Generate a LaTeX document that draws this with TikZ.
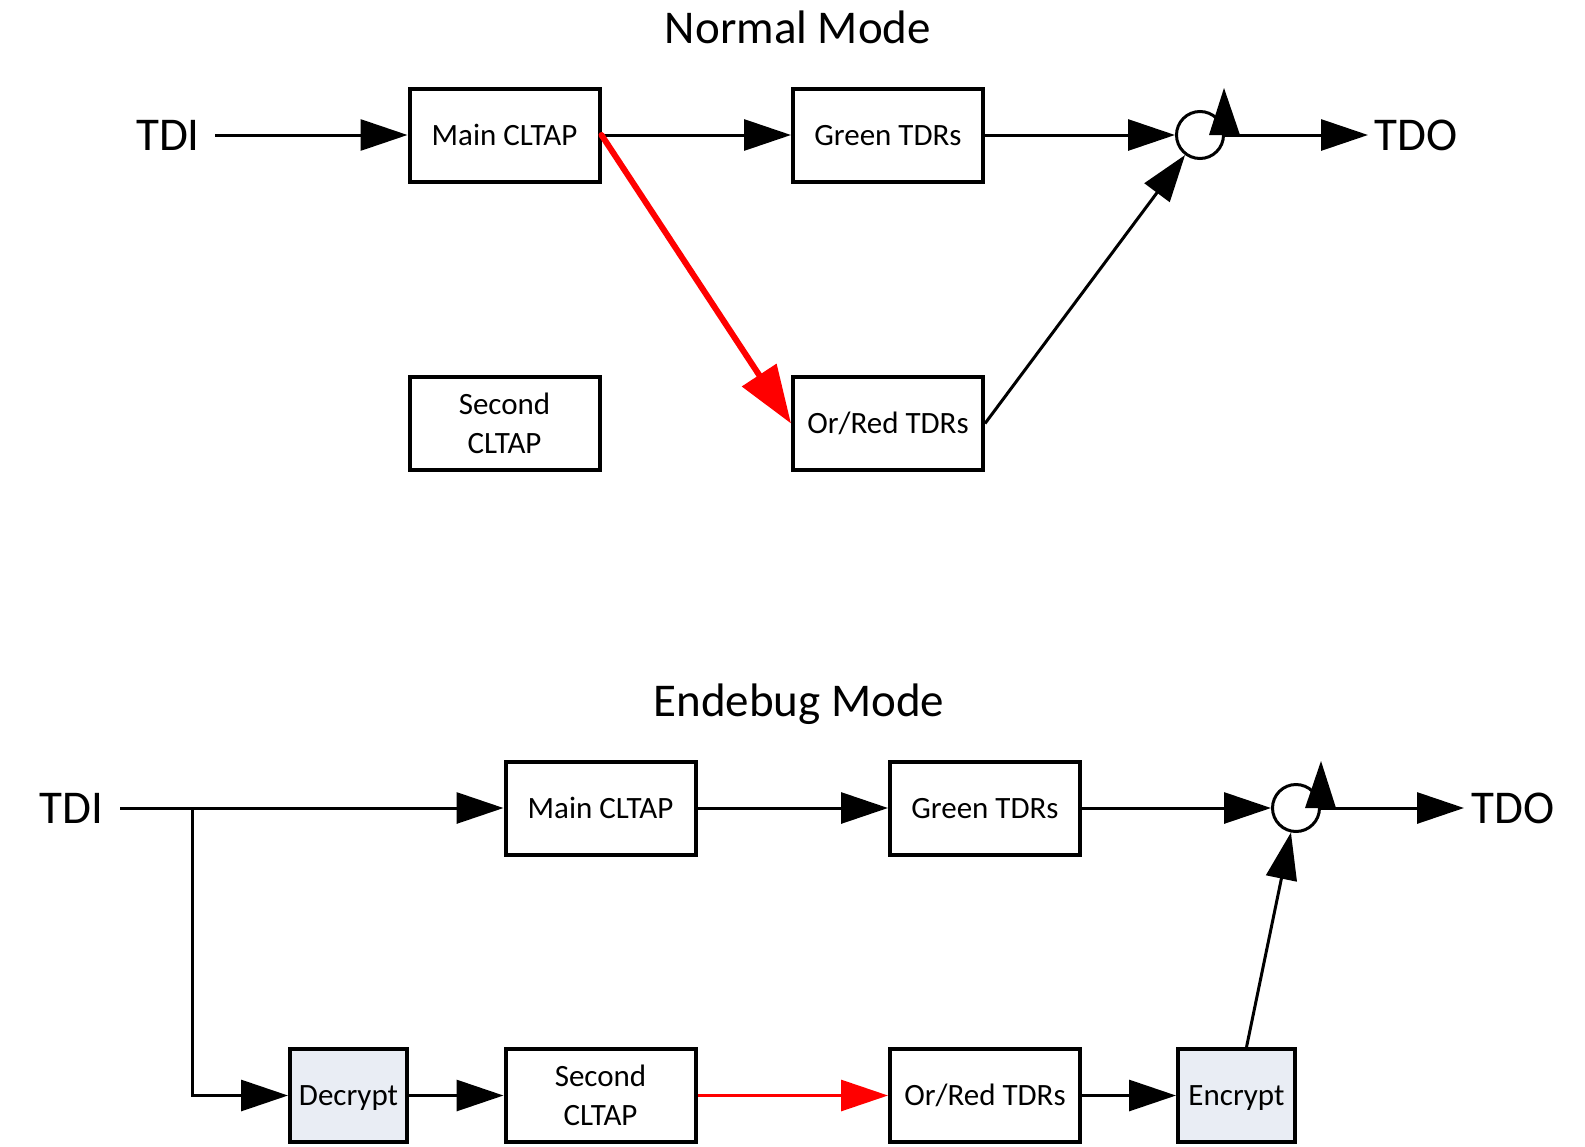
\documentclass[tikz,border=0pt]{standalone}
\usepackage{fontspec}
\setmainfont{Carlito}
\usetikzlibrary{arrows.meta,calc}
\definecolor{encfill}{RGB}{233,237,244}
\tikzset{
  box/.style={draw, line width=4pt, minimum width=190pt, minimum height=93pt, inner sep=0pt,
    align=center, font=\fontsize{31}{39}\selectfont},
  oneline/.style={text height=20pt, text depth=0pt},
  cbox/.style={box, oneline, fill=encfill, minimum width=117pt},
  junc/.style={draw, circle, line width=3pt, minimum size=47pt, inner sep=0pt},
  biglab/.style={inner sep=0pt, font=\fontsize{47}{50}\selectfont},
  arr/.style={line width=3pt, -{Triangle[length=47pt,width=31pt]}},
  redbig/.style={line width=6pt, red, line cap=round, -{Triangle[length=58pt,width=40pt]}},
  redarr/.style={line width=3pt, red, -{Triangle[length=47pt,width=31pt]}},
}
\begin{document}
\begin{tikzpicture}[x=1pt,y=-1pt]
\useasboundingbox (0,0) rectangle (1585,1146);

% ---------- Normal Mode ----------
\node[biglab, anchor=base] (titleA) at (798,43) {Normal Mode};
\node[biglab, anchor=base] (tdiA) at (168,150) {TDI};
\coordinate (tdiAs) at (215,135);
\node[box, oneline] (mainA) at (504.5,135) {Main CLTAP};
\node[box, oneline] (greenA) at (888,135) {Green TDRs};
\node[box] (secondA) at (504.5,423.5) {Second\\CLTAP};
\node[box, oneline] (orredA) at (888,423.5) {Or/Red TDRs};
\node[junc] (circA) at (1200,135) {};
\node[biglab, anchor=base west] (tdoA) at (1374,150) {TDO};
\coordinate (tdoAw) at (1368,135);

\draw[arr] (tdiAs) -- (mainA.west);
\draw[arr] (mainA.east) -- (greenA.west);
\draw[arr] (greenA.east) -- (circA.west);
\draw[arr] (circA.east) -- (tdoAw);
\draw[arr] (orredA.east) -- (circA);
\draw[redbig] (mainA.east) -- (orredA.west);
\fill ($(circA.east)+(-16,0)$) -- ($(circA.east)+(15,0)$) -- ($(circA.east)+(-1,-47)$) -- cycle;

% ---------- Endebug Mode ----------
\node[biglab, anchor=base] (titleB) at (799,716) {Endebug Mode};
\node[biglab, anchor=base] (tdiB) at (71.5,823) {TDI};
\coordinate (tdiBs) at (120,808);
\coordinate (br) at (192,808);
\node[box, oneline] (mainB) at (600.5,808) {Main CLTAP};
\node[box, oneline] (greenB) at (985,808) {Green TDRs};
\node[junc] (circB) at (1296,808) {};
\node[biglab, anchor=base west] (tdoB) at (1471,823) {TDO};
\coordinate (tdoBw) at (1464,808);
\node[cbox] (decrypt) at (348.5,1095.5) {Decrypt};
\node[box] (secondB) at (600.5,1095.5) {Second\\CLTAP};
\node[box, oneline] (orredB) at (985,1095.5) {Or/Red TDRs};
\node[cbox] (encrypt) at (1236.5,1095.5) {Encrypt};

\draw[arr] (tdiBs) -- (mainB.west);
\draw[arr] (mainB.east) -- (greenB.west);
\draw[arr] (greenB.east) -- (circB.west);
\draw[arr] (circB.east) -- (tdoBw);
\draw[arr] (br) |- (decrypt.west);
\draw[arr] (decrypt.east) -- (secondB.west);
\draw[redarr] (secondB.east) -- (orredB.west);
\draw[arr] (orredB.east) -- (encrypt.west);
\draw[arr] (encrypt) -- (circB);
\fill ($(circB.east)+(-16,0)$) -- ($(circB.east)+(15,0)$) -- ($(circB.east)+(0,-47)$) -- cycle;
\end{tikzpicture}
\end{document}
